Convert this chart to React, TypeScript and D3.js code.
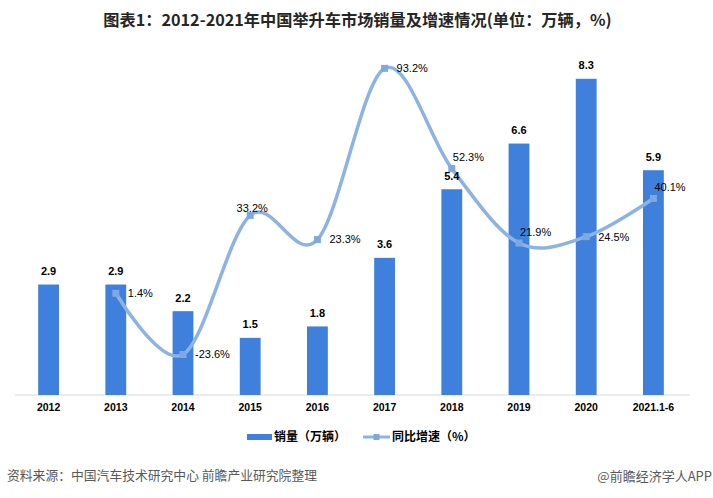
import React from "react";
import * as d3 from "d3";

const years = ["2012", "2013", "2014", "2015", "2016", "2017", "2018", "2019", "2020", "2021.1-6"];
const sales = [2.9, 2.9, 2.2, 1.5, 1.8, 3.6, 5.4, 6.6, 8.3, 5.9];
const growth: (number | null)[] = [null, 1.4, -23.6, 33.2, 23.3, 93.2, 52.3, 21.9, 24.5, 40.1];
const growthLabelPlace = ["", "right", "right", "above", "right", "right", "aboveRight", "aboveRight", "right", "aboveRight"];

const titleText = "图表1：2012-2021年中国举升车市场销量及增速情况(单位：万辆，%)";
const salesName = "销量（万辆）";
const growthName = "同比增速（%）";
const sourceText = "资料来源：中国汽车技术研究中心 前瞻产业研究院整理";
const creditText = "@前瞻经济学人APP";

const W = 713;
const H = 498;
const BAR = "#3e80dc";
const LINE = "#8cb3e4";
const MARK = "#7fa8e0";
const CJK = "'Noto Sans CJK SC', 'Liberation Sans', sans-serif";
const LAT = "'Liberation Sans', Arial, sans-serif";

export default function App() {
  const x = d3.scaleBand<string>().domain(years).range([15, 687]).paddingInner(0.69).paddingOuter(0.345);
  const yBar = d3.scaleLinear().domain([0, 10]).range([395, 14]);
  const yLine = d3.scaleLinear().domain([-40, 120]).range([394.7, 2.7]);
  const cx = (d: string) => (x(d) as number) + x.bandwidth() / 2;

  const pts = years
    .map((yr, i) => ({ yr, v: growth[i], place: growthLabelPlace[i] }))
    .filter((p) => p.v !== null) as { yr: string; v: number; place: string }[];

  const line = d3
    .line<{ yr: string; v: number }>()
    .x((d) => cx(d.yr))
    .y((d) => yLine(d.v))
    .curve(d3.curveCardinal.tension(0));

  const labelPos = (p: { yr: string; v: number; place: string }) => {
    const px = cx(p.yr);
    const py = yLine(p.v);
    if (p.place === "above") return { x: px + 2, y: py - 7, anchor: "middle" };
    if (p.place === "aboveRight") return { x: px + 1, y: py - 11, anchor: "start" };
    return { x: px + 12, y: py, anchor: "start" };
  };

  return (
    <svg width={W} height={H} style={{ position: "absolute", left: 0, top: 0, background: "#fff" }}>
      <rect x={0} y={0} width={W} height={H} fill="#fff" />
      <text x={357.5} y={26} textAnchor="middle" fontFamily={CJK} fontWeight="bold" fontSize={16.2} fill="#262626">
        {titleText}
      </text>

      {/* axis line */}
      <line x1={15} x2={690} y1={yBar(0)} y2={yBar(0)} stroke="#d9d9d9" strokeWidth={1} />

      {/* bars */}
      {years.map((yr, i) => (
        <g key={yr}>
          <rect x={x(yr)} y={yBar(sales[i])} width={x.bandwidth()} height={yBar(0) - yBar(sales[i])} fill={BAR} />
          <text x={cx(yr)} y={411} textAnchor="middle" fontFamily={LAT} fontWeight="bold" fontSize={10.5} fill="#000">
            {yr}
          </text>
        </g>
      ))}

      {/* growth line */}
      <path d={line(pts) || ""} fill="none" stroke={LINE} strokeWidth={3.5} strokeLinecap="round" />
      {pts.map((p) => (
        <rect key={p.yr} x={cx(p.yr) - 3.5} y={yLine(p.v) - 3.5} width={7} height={7} fill={MARK} />
      ))}

      {/* bar value labels */}
      {years.map((yr, i) => (
        <text key={"b" + yr} x={cx(yr)} y={yBar(sales[i]) - 9.5} textAnchor="middle" fontFamily={LAT} fontWeight="bold" fontSize={11} fill="#000">
          {sales[i].toFixed(1)}
        </text>
      ))}

      {/* growth labels */}
      {pts.map((p) => {
        const l = labelPos(p);
        return (
          <text key={"l" + p.yr} x={l.x} y={l.y} dy="0.35em" textAnchor={l.anchor} fontFamily={LAT} fontSize={11} fill="#000">
            {p.v.toFixed(1) + "%"}
          </text>
        );
      })}

      {/* legend */}
      <rect x={247} y={434} width={25} height={6} fill={BAR} />
      <text x={274} y={437} dy="0.35em" fontFamily={CJK} fontWeight="bold" fontSize={12} fill="#000">
        {salesName}
      </text>
      <line x1={363} x2={390} y1={437} y2={437} stroke={LINE} strokeWidth={3} />
      <rect x={373.5} y={434} width={6} height={6} fill={MARK} />
      <text x={392} y={437} dy="0.35em" fontFamily={CJK} fontWeight="bold" fontSize={12} fill="#000">
        {growthName}
      </text>

      {/* footer */}
      <text x={7} y={476} dy="0.35em" fontFamily={CJK} fontSize={12.8} fill="#595959">
        {sourceText}
      </text>
      <text x={712} y={476} dy="0.35em" textAnchor="end" fontFamily={CJK} fontSize={13} fill="#595959">
        {creditText}
      </text>
    </svg>
  );
}
